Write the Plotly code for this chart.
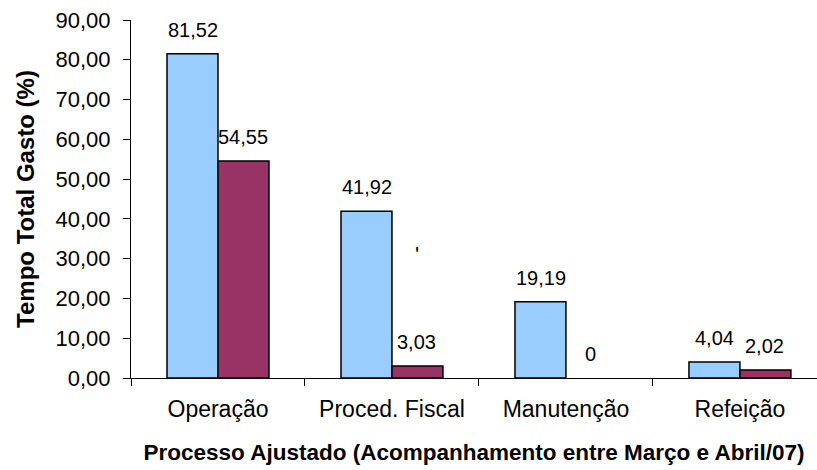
import plotly.graph_objects as go

categories = ["Operação", "Proced. Fiscal", "Manutenção", "Refeição"]
serie_a = [81.52, 41.92, 19.19, 4.04]
serie_b = [54.55, 3.03, 0.0, 2.02]

COR_A = "#99CCFF"
COR_B = "#993366"
FONT = "Liberation Sans, Arial, sans-serif"


def rotulo(v):
    return "0" if v == 0 else f"{v:.2f}".replace(".", ",")


def contorno(vals):
    # no outline on empty bars
    return [0 if v == 0 else 1.5 for v in vals]


fig = go.Figure()
fig.add_trace(go.Bar(x=categories, y=serie_a,
                     marker=dict(color=COR_A, line=dict(color="black", width=contorno(serie_a))),
                     showlegend=False))
fig.add_trace(go.Bar(x=categories, y=serie_b,
                     marker=dict(color=COR_B, line=dict(color="black", width=contorno(serie_b))),
                     showlegend=False))

# value labels above each bar
for cat, va, vb in zip(categories, serie_a, serie_b):
    for v, dx in ((va, -25), (vb, 25)):
        fig.add_annotation(x=cat, y=v, xref="x", yref="y", text=rotulo(v), showarrow=False,
                           xshift=dx, yshift=24, yanchor="middle",
                           font=dict(family=FONT, size=20, color="black"))

# stray tick mark above the second series in "Proced. Fiscal"
fig.add_annotation(x=categories[1], y=31.0, xref="x", yref="y", text="'", showarrow=False,
                   xshift=25, font=dict(family=FONT, size=22, color="black"))

fig.update_layout(
    width=817, height=470,
    margin=dict(l=131, r=0, t=20, b=92),
    plot_bgcolor="white", paper_bgcolor="white",
    barmode="group", bargap=0.414, bargroupgap=0,
    separators=",.",
    font=dict(family=FONT, color="black"),
    xaxis=dict(
        range=[-0.5, 3.443], showline=True, linecolor="black", linewidth=1,
        ticks="outside", ticklen=7, tickcolor="black", tickson="boundaries",
        tickfont=dict(size=23), ticklabelstandoff=10, showgrid=False,
        title=dict(text="<b>Processo Ajustado (Acompanhamento entre Março e Abril/07)</b>",
                   font=dict(size=22.5), standoff=23),
    ),
    yaxis=dict(
        range=[0, 90], dtick=10, tickformat=".2f", showline=True, linecolor="black", linewidth=1,
        ticks="outside", ticklen=7, tickcolor="black", tickfont=dict(size=22),
        ticklabelstandoff=8, showgrid=False, zeroline=False,
        title=dict(text="<b>Tempo Total Gasto (%)</b>", font=dict(size=24), standoff=14),
    ),
)

fig.write_html("out.html")
